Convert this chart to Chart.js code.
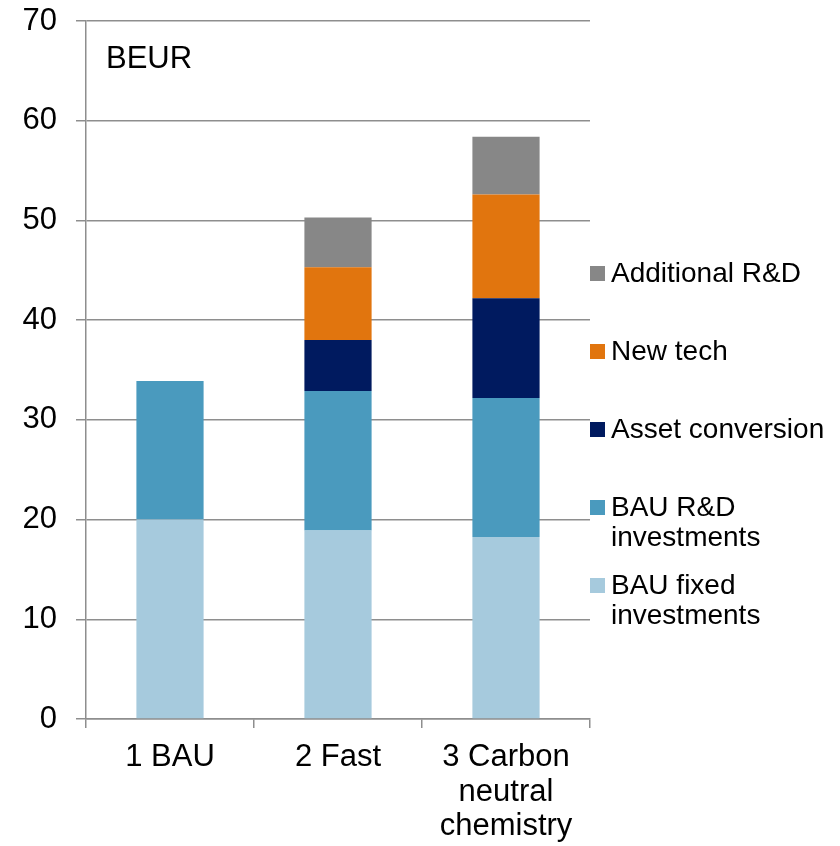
<!DOCTYPE html>
<html>
<head>
<meta charset="utf-8">
<script src="https://cdn.jsdelivr.net/npm/chart.js@4/dist/chart.umd.min.js"></script>
<style>
  html, body { margin: 0; padding: 0; background: #fff; }
  #wrap { width: 840px; height: 846px; }
</style>
</head>
<body>
<div id="wrap"><canvas id="chart" width="840" height="846"></canvas></div>
<script>
const categories = ['1 BAU', '2 Fast', ['3 Carbon', 'neutral', 'chemistry']];
const bauFixed = [20, 18.9, 18.25];
const bauRnd = [13.9, 14.0, 13.95];
const assetConversion = [0, 5.1, 10.0];
const newTech = [0, 7.3, 10.4];
const additionalRnd = [0, 5.0, 5.8];
const yTicks = [0, 10, 20, 30, 40, 50, 60, 70];

const FONT = '"Liberation Sans", Arial, sans-serif';
const GRID = '#8e8e8e';

// legend drawn on the right, top entry first, like the original
const legendPlugin = {
    id: 'sideLegend',
    afterDraw(chart) {
        const ctx = chart.ctx;
        const items = chart.data.datasets.slice().reverse();
        const x = chart.chartArea.right;
        ctx.save();
        ctx.font = '28px ' + FONT;
        ctx.textBaseline = 'alphabetic';
        ctx.textAlign = 'left';
        let y = 282;
        items.forEach(ds => {
            const lines = [].concat(ds.legendText || ds.label);
            ctx.fillStyle = ds.backgroundColor;
            ctx.fillRect(x, y - 16, 15, 15);
            ctx.fillStyle = '#000';
            lines.forEach((line, i) => ctx.fillText(line, x + 21, y + i * 30));
            y += 78;
        });
        // unit label in the top left of the plot
        ctx.font = '31px ' + FONT;
        ctx.fillText('BEUR', chart.chartArea.left + 20, 68);
        ctx.restore();
    }
};

new Chart(document.getElementById('chart'), {
    type: 'bar',
    data: {
        labels: categories,
        datasets: [
            { label: 'BAU fixed investments', legendText: ['BAU fixed', 'investments'], data: bauFixed, backgroundColor: '#a6cadd' },
            { label: 'BAU R&D investments', legendText: ['BAU R&D', 'investments'], data: bauRnd, backgroundColor: '#4a9abe' },
            { label: 'Asset conversion', data: assetConversion, backgroundColor: '#001a5f' },
            { label: 'New tech', data: newTech, backgroundColor: '#e1750e' },
            { label: 'Additional R&D', data: additionalRnd, backgroundColor: '#878787' }
        ]
    },
    options: {
        responsive: false,
        animation: false,
        events: [],
        layout: { padding: { top: 21, right: 250, bottom: 0, left: 0 } },
        datasets: { bar: { categoryPercentage: 1, barPercentage: 0.4, borderWidth: 0 } },
        plugins: { legend: { display: false }, tooltip: { enabled: false } },
        scales: {
            x: {
                stacked: true,
                afterFit: s => { s.height = 127; s.paddingLeft = 0; s.paddingRight = 0; },
                grid: { display: true, drawOnChartArea: false, drawTicks: true, tickLength: 9, color: GRID, lineWidth: 1.5 },
                border: { display: true, color: GRID, width: 1.5 },
                ticks: {
                    color: '#000', autoSkip: false, maxRotation: 0, padding: 12,
                    font: { family: FONT, size: 31, lineHeight: 1.12 }
                }
            },
            y: {
                stacked: true,
                min: 0,
                max: 70,
                afterFit: s => { s.width = 86; s.paddingTop = 0; s.paddingBottom = 0; },
                afterBuildTicks: s => { s.ticks = yTicks.map(v => ({ value: v })); },
                grid: { color: GRID, lineWidth: 1.5, tickLength: 10 },
                border: { display: true, color: GRID, width: 1.5 },
                ticks: {
                    color: '#000', padding: 19,
                    font: { family: FONT, size: 31 }
                }
            }
        }
    },
    plugins: [legendPlugin]
});
</script>
</body>
</html>
